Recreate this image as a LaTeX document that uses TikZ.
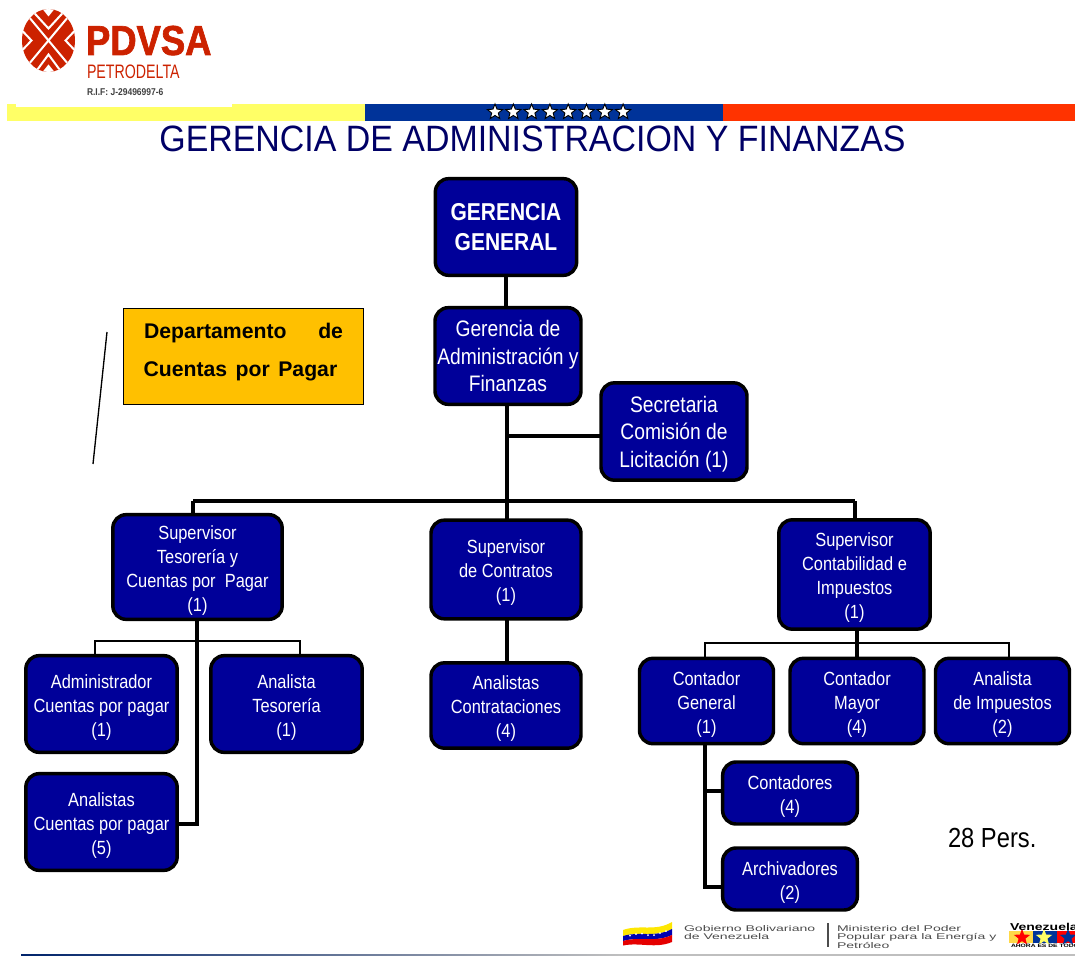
\documentclass[tikz,border=0pt]{standalone}
\usepackage{fontspec}
\setmainfont{Liberation Sans}
\newfontfamily\nar[FakeStretch=0.86]{Liberation Sans}
\newfontfamily\titlef[FakeStretch=0.925]{Liberation Sans}
\newfontfamily\pdvf[FakeStretch=0.87,FakeBold=1.6]{Liberation Sans Bold}
\newfontfamily\petf[FakeStretch=0.73]{Liberation Sans}
\newfontfamily\footf[FakeStretch=1.7]{Liberation Sans}
\newfontfamily\venf[FakeStretch=1.4]{Liberation Sans Bold}
\usetikzlibrary{shapes.geometric}
\definecolor{boxblue}{HTML}{000099}
\definecolor{pdred}{HTML}{CC2200}
\definecolor{gold}{HTML}{FFC000}
\definecolor{ylw}{HTML}{FFFF66}
\definecolor{stripeblue}{HTML}{003399}
\definecolor{stripered}{HTML}{FF3300}
\definecolor{titleblue}{HTML}{000066}
\newcommand{\firstln}[1]{\rule{0pt}{#1}}
\tikzset{
 box/.style={draw=black,line width=2.6pt,rounded corners=10pt,fill=boxblue,text=white,align=center,inner sep=0pt,outer sep=0pt,font=\nar\fontsize{14.3}{18}\selectfont},
 midbox/.style={box,font=\nar\fontsize{16.8}{20.8}\selectfont},
 topbox/.style={box,font=\nar\bfseries\fontsize{18.3}{22.5}\selectfont},
 link/.style={line width=2.3pt,draw=black},
 thinlink/.style={line width=2pt,draw=black},
 plain/.style={inner sep=0pt,outer sep=0pt},
 whiteline/.style={white,line width=1.5pt,line join=miter},
 wstar/.style={star,star points=5,star point ratio=2.3,draw=black,fill=white,line width=0.7pt,inner sep=0pt,minimum size=12pt},
 vstar/.style={star,star points=5,star point ratio=2.4,inner sep=0pt,minimum size=13pt},
 depfont/.style={plain,font=\bfseries\fontsize{15.9}{18}\selectfont},
 foot/.style={plain,anchor=base west,text=black!70,font=\footf\fontsize{6.2}{6.4}\selectfont,align=left},
}
\begin{document}
\begin{tikzpicture}[x=0.75pt,y=-0.75pt]
\useasboundingbox (0,0) rectangle (1075,956);
% logo
\begin{scope}
\clip (48.5,40.5) ellipse [x radius=26.5,y radius=31.5];
\fill[pdred] (20,5) rectangle (78,76);
\draw[whiteline] (48.5-30,40.5-36) -- (48.5+30,40.5+36) (48.5+30,40.5-36) -- (48.5-30,40.5+36);
\draw[whiteline] (48.5-22,40.5-36) -- (48.5,40.5-12) -- (48.5+22,40.5-36)
  (48.5-22,40.5+44) -- (48.5,40.5+14) -- (48.5+22,40.5+44)
  (48.5-36,40.5-20) -- (48.5-17,40.5) -- (48.5-36,40.5+20)
  (48.5+36,40.5-20) -- (48.5+17,40.5) -- (48.5+36,40.5+20);
\fill[white] (48.5-8,40.5-34) -- (48.5,40.5-24) -- (48.5+8,40.5-34) -- cycle;
\fill[white] (48.5-8,40.5+34) -- (48.5,40.5+24) -- (48.5+8,40.5+34) -- cycle;
\end{scope}
\node[plain,anchor=base west,text=pdred,font=\pdvf\fontsize{31.4}{32}\selectfont] (pd) at (86,55) {PDVSA};
\node[plain,anchor=base west,text=pdred,font=\petf\fontsize{14.6}{15}\selectfont] (pet) at (87,79) {PETRODELTA};
\node[plain,anchor=base west,text=black!75,font=\nar\bfseries\fontsize{7.4}{8}\selectfont] (rif) at (87,96) {R.I.F: J-29496997-6};
% stripe
\fill[ylw] (7,104) rectangle (365,121);
\fill[white] (16,103.5) rectangle (232,107);
\fill[stripeblue] (365,104) rectangle (723,121);
\fill[stripered] (723,104) rectangle (1075,121);
\foreach \i in {0,...,7}{
 \node[wstar] (st\i) at (495+\i*18.3,112) {};
}
\node[plain,text=titleblue,font=\titlef\fontsize{27.5}{30}\selectfont] (title) at (532.5,139) {GERENCIA DE ADMINISTRACION Y FINANZAS};
% yellow box
\node[draw=black,line width=0.8pt,fill=gold,minimum width=180pt,minimum height=72.5pt,inner sep=0pt,anchor=north west] (dep) at (123,307.5) {};
\node[depfont,anchor=base west] (d1) at (144,338) {Departamento};
\node[depfont,anchor=base east] (d2) at (343,338) {de};
\node[depfont,anchor=base west] (d3) at (143.5,376) {Cuentas\hspace{6.4pt}por\hspace{6.4pt}Pagar};
\coordinate (s1) at (107,332); \coordinate (s2) at (93,464);
\draw[line width=1pt] (s1) -- (s2);
% boxes
\node[topbox,minimum width=106pt,minimum height=72.5pt] (gg) at (506,227) {GERENCIA\\GENERAL};
\node[midbox,minimum width=109.5pt,minimum height=72.5pt] (gaf) at (508,356) {Gerencia de\\Administración y\\Finanzas};
\node[midbox,minimum width=109.5pt,minimum height=73pt] (sec) at (674,431.5) {\firstln{16pt}Secretaria\\Comisión de\\Licitación (1)};
\node[box,minimum width=127pt,minimum height=78.5pt] (supt) at (197.5,567) {\firstln{15.2pt}Supervisor\\Tesorería y\\Cuentas por\ \ Pagar\\(1)};
\node[box,minimum width=112.5pt,minimum height=74pt] (supc) at (506,569.5) {\firstln{15.2pt}Supervisor\\de Contratos\\(1)};
\node[box,minimum width=113.5pt,minimum height=82pt] (supi) at (854.5,574.5) {\firstln{15.2pt}Supervisor\\Contabilidad e\\Impuestos\\(1)};
\node[box,minimum width=113.5pt,minimum height=72.5pt] (adm) at (101.5,704) {\firstln{15.2pt}Administrador\\Cuentas por pagar\\(1)};
\node[box,minimum width=113.5pt,minimum height=72.5pt] (ate) at (286.5,704) {\firstln{15.2pt}Analista\\Tesorería\\(1)};
\node[box,minimum width=113.5pt,minimum height=72.5pt] (acp) at (101.5,822) {\firstln{15.2pt}Analistas\\Cuentas por pagar\\(5)};
\node[box,minimum width=112.5pt,minimum height=64pt] (aco) at (506,705.5) {\firstln{15.2pt}Analistas\\Contrataciones\\(4)};
\node[box,minimum width=100.5pt,minimum height=64pt] (cg) at (706.5,701) {\firstln{15.2pt}Contador\\General\\(1)};
\node[box,minimum width=100.5pt,minimum height=64pt] (cm) at (857,701) {\firstln{15.2pt}Contador\\Mayor\\(4)};
\node[box,minimum width=100.5pt,minimum height=64pt] (ai) at (1002.5,701) {\firstln{15.2pt}Analista\\de Impuestos\\(2)};
\node[box,minimum width=101pt,minimum height=46.5pt] (con) at (790,793) {\firstln{15.2pt}Contadores\\(4)};
\node[box,minimum width=101pt,minimum height=46.5pt] (arc) at (790,879) {\firstln{15.2pt}Archivadores\\(2)};
\node[plain,anchor=base west,font=\nar\fontsize{20.7}{21}\selectfont] (pers) at (948,847) {28 Pers.};
% connectors
\coordinate (h1) at (193,501);
\coordinate (h2) at (855,501);
\coordinate (t1) at (507,436);
\coordinate (gs) at (506,276);
\coordinate (ts) at (197,620);
\coordinate (tb) at (197,824);
\coordinate (tl) at (95,641);
\coordinate (tr2) at (300,641);
\coordinate (is) at (857,630);
\coordinate (il) at (705,643);
\coordinate (ir) at (1009,643);
\coordinate (cgs) at (705,745);
\draw[link] (gs) -- (gs |- gaf.north);
\draw[link] (t1 |- gaf.south) -- (t1 |- supc.north);
\draw[link,line width=2.8pt] (h1) -- (h2);
\draw[link] (h1) -- (h1 |- supt.north);
\draw[link] (h2) -- (h2 |- supi.north);
\draw[link,line width=3.4pt] (t1) -- (t1 -| sec.west);
\draw[link] (ts) -- (tb) -- (tb -| acp.east);
\draw[thinlink] (tl |- adm.north) -- (tl) -- (tr2) -- (tr2 |- ate.north);
\draw[link] (t1 |- supc.south) -- (t1 |- aco.north);
\draw[thinlink] (il |- cg.north) -- (il) -- (ir) -- (ir |- ai.north);
\draw[link] (is) -- (is |- cm.north);
\draw[link] (cgs) -- (705,887) -- (arc.west |- 0,887);
\draw[link] (705,791) -- (con.west |- 0,791);
% footer
\shade[left color=stripeblue!70!black,right color=black!25] (21,954) rectangle (620,956);
\fill[black!25] (620,954) rectangle (1075,956);
\fill[yellow!90!orange] (623,930) .. controls (640,924) and (655,932) .. (672,922) -- (672,929) .. controls (655,938) and (640,931) .. (623,936) -- cycle;
\fill[blue!70!black] (623,936) .. controls (640,931) and (655,938) .. (672,929) -- (672,935) .. controls (655,943) and (640,936) .. (623,941) -- cycle;
\fill[red!90!black] (623,941) .. controls (640,936) and (655,943) .. (672,935) -- (672,942) .. controls (655,949) and (640,942) .. (623,945.5) -- cycle;
\foreach \i/\j in {630/935.5,636/934,642/933.5,648/935,654/935,660/933,666/931}{
 \fill[white] (\i,\j) circle [radius=1];
}
\node[foot] (gob) at (684,931) {Gobierno Bolivariano};
\node[foot] (gob2) at (684,939) {de Venezuela};
\draw[black!70,line width=1pt] (828,923) -- (828,947);
\node[foot] (min) at (837,931) {Ministerio del Poder};
\node[foot] (min2) at (837,939.5) {Popular para la Energía y};
\node[foot] (min3) at (837,948) {Petróleo};
\begin{scope}
\clip (1005,920) rectangle (1075,950);
\fill[ylw!70!orange] (1009,931) rectangle (1033,943);
\fill[stripeblue] (1033,931) rectangle (1057,943);
\fill[red] (1057,931) rectangle (1075,943);
\node[vstar,fill=red] (v1) at (1022,937.5) {};
\node[vstar,fill=ylw] (v2) at (1044,937.5) {};
\node[vstar,fill=stripeblue] (v3) at (1068,937.5) {};
\node[plain,anchor=base west,font=\venf\fontsize{7.5}{8}\selectfont] (ven) at (1010,930.5) {Venezuela};
\node[plain,anchor=base west,font=\venf\fontsize{3.6}{4}\selectfont] (aho) at (1011,947) {AHORA ES DE TODOS};
\end{scope}
\end{tikzpicture}
\end{document}
